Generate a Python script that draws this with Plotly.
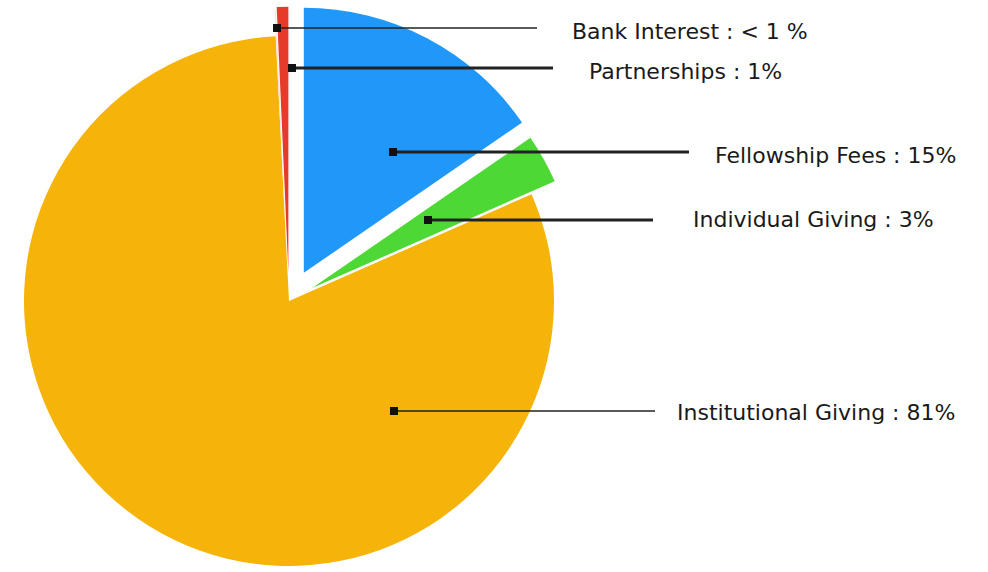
import math
import plotly.graph_objects as go

# ---- data (clockwise from 12 o'clock) ----
labels = ["Fellowship Fees", "Individual Giving", "Institutional Giving", "Bank Interest", "Partnerships"]
values = [15.4, 3.0, 80.8, 0.1, 0.7]
label_texts = ["Fellowship Fees : 15%", "Individual Giving : 3%", "Institutional Giving : 81%",
               "Bank Interest : < 1 %", "Partnerships : 1%"]

# ---- style ----
colors = ["#1F98FA", "#4ED836", "#F6B40A", "#FBE6E2", "#E63B2A"]
pulls = [0.12, 0.10, 0.0, 0.10, 0.11]
W, H = 988, 572
CX, CY, R = 289, 301, 265

# leader: (marker x, y, line end x, label x, label y, line width)
leaders = {
    "Fellowship Fees": (393, 152, 689, 713, 155, 3),
    "Individual Giving": (428, 220, 653, 691, 220, 3),
    "Institutional Giving": (394, 411, 655, 675, 413, 1.5),
    "Bank Interest": (277, 28, 537, 570, 32, 1.5),
    "Partnerships": (292, 68, 553, 587, 71, 3),
}

def px(x):
    return x / W

def py(y):
    return 1 - y / H

fig = go.Figure()
total = sum(values)
start = 0.0
order = [2, 0, 1, 3, 4]  # draw base first
angles = []
for v in values:
    a0 = start
    a1 = start + v / total * 360
    angles.append((a0, a1))
    start = a1

for i in order:
    a0, a1 = angles[i]
    mid = math.radians((a0 + a1) / 2)
    d = pulls[i] * R
    cx = CX + d * math.sin(mid)
    cy = CY - d * math.cos(mid)
    cols = ["rgba(0,0,0,0)"] * len(values)
    cols[i] = colors[i]
    fig.add_trace(go.Pie(
        labels=labels, values=values, sort=False, direction="clockwise", rotation=0,
        marker=dict(colors=cols, line=dict(width=0)),
        textinfo="none", hoverinfo="none", showlegend=False,
        domain=dict(x=[max(0, px(cx - R)), min(1, px(cx + R))],
                    y=[max(0, py(cy + R)), min(1, py(cy - R))]),
    ))

shapes = []
annotations = []
for lab, txt in zip(labels, label_texts):
    mx, my, lx, tx, ty, lw = leaders[lab]
    shapes.append(dict(type="line", xref="paper", yref="paper",
                       x0=px(mx), y0=py(my), x1=px(lx), y1=py(my),
                       line=dict(color="#222222", width=lw)))
    shapes.append(dict(type="rect", xref="paper", yref="paper",
                       x0=px(mx - 4), y0=py(my + 4), x1=px(mx + 4), y1=py(my - 4),
                       fillcolor="#111111", line=dict(width=0)))
    annotations.append(dict(xref="paper", yref="paper", x=px(tx), y=py(ty),
                            text=txt, showarrow=False, xanchor="left", yanchor="middle",
                            font=dict(family="DejaVu Sans", size=22, color="#1a1a1a")))

fig.update_layout(
    width=W, height=H,
    margin=dict(l=0, r=0, t=0, b=0),
    paper_bgcolor="white", plot_bgcolor="white",
    shapes=shapes, annotations=annotations,
)

fig.write_html("out.html", config={"displayModeBar": False},
               post_script="document.body.style.margin='0';document.body.style.overflow='hidden';")
